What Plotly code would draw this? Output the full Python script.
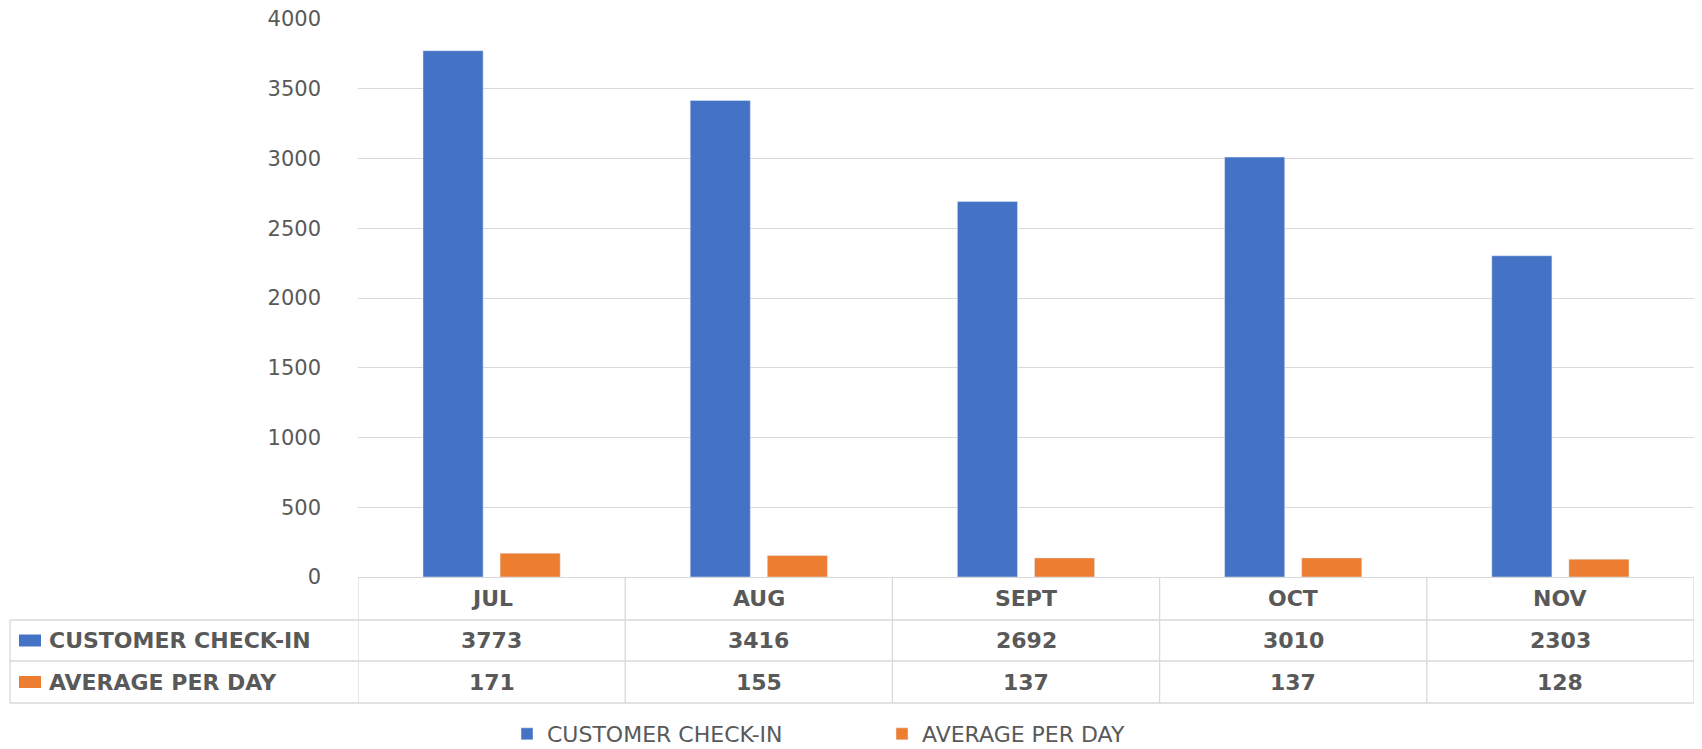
import plotly.graph_objects as go

months = ["JUL", "AUG", "SEPT", "OCT", "NOV"]
checkins = [3773, 3416, 2692, 3010, 2303]
avg_per_day = [171, 155, 137, 137, 128]
series_names = ["CUSTOMER CHECK-IN", "AVERAGE PER DAY"]
y_ticks = [0, 500, 1000, 1500, 2000, 2500, 3000, 3500, 4000]

BLUE = "#4472C4"
ORANGE = "#ED7D31"
GRID = "#D9D9D9"
TXT = "#595959"
FONT = "DejaVu Sans"

OFF = 8  # default page body margin
WIN_W, WIN_H = 1702, 749
W, H = WIN_W - OFF, WIN_H - OFF

# plot area in window pixels
PX_LEFT, PX_RIGHT, PX_TOP, PX_BOTTOM = 358, 1694, 19, 577
L = PX_LEFT - OFF
R = W - (PX_RIGHT - OFF)
T = PX_TOP - OFF
B = H - (PX_BOTTOM - OFF)
PW = PX_RIGHT - PX_LEFT
PH = PX_BOTTOM - PX_TOP


def px_x(px):
    return (px - PX_LEFT) / PW


def px_y(py):
    return (PX_BOTTOM - py) / PH


fig = go.Figure()
fig.add_trace(go.Bar(x=months, y=checkins, name=series_names[0], marker_color=BLUE))
fig.add_trace(go.Bar(x=months, y=avg_per_day, name=series_names[1], marker_color=ORANGE))

row_lines = [620, 661, 703]
row_centers = [(PX_BOTTOM + 620) / 2, (620 + 661) / 2, (661 + 703) / 2]
table_left = 10

shapes = []
line = dict(color=GRID, width=1.3)
for py in row_lines:
    shapes.append(dict(type="line", xref="paper", yref="paper",
                       x0=px_x(table_left), x1=1, y0=px_y(py), y1=px_y(py), line=line))
shapes.append(dict(type="line", xref="paper", yref="paper",
                   x0=px_x(table_left), x1=px_x(table_left),
                   y0=px_y(620), y1=px_y(703), line=line))
for i in range(len(months) + 1):
    shapes.append(dict(type="line", xref="x", yref="paper",
                       x0=i - 0.5, x1=i - 0.5, y0=0, y1=px_y(703), line=line))

annotations = []
for r, (name, vals, col) in enumerate(zip(series_names, [checkins, avg_per_day], [BLUE, ORANGE])):
    cy = row_centers[r + 1]
    shapes.append(dict(type="rect", xref="paper", yref="paper",
                       x0=px_x(19), x1=px_x(41), y0=px_y(cy - 6), y1=px_y(cy + 6),
                       fillcolor=col, line=dict(width=0)))
    annotations.append(dict(xref="paper", yref="paper", x=px_x(47), y=px_y(cy),
                            text="<b>%s</b>" % name, showarrow=False,
                            xanchor="left", yanchor="middle",
                            font=dict(family=FONT, size=22, color=TXT)))
    for i, v in enumerate(vals):
        annotations.append(dict(xref="x", yref="paper", x=i, y=px_y(cy),
                                text="<b>%d</b>" % v, showarrow=False,
                                xanchor="center", yanchor="middle",
                                font=dict(family=FONT, size=22, color=TXT)))
for i, m in enumerate(months):
    annotations.append(dict(xref="x", yref="paper", x=i, y=px_y(row_centers[0]),
                            text="<b>%s</b>" % m, showarrow=False,
                            xanchor="center", yanchor="middle",
                            font=dict(family=FONT, size=22, color=TXT)))

fig.update_layout(
    width=W, height=H,
    margin=dict(l=L, r=R, t=T, b=B, autoexpand=False),
    paper_bgcolor="white", plot_bgcolor="white",
    barmode="group", bargap=0.423, bargroupgap=0.22,
    font=dict(family=FONT, color=TXT),
    shapes=shapes, annotations=annotations,
    legend=dict(orientation="h", x=px_x(507), xanchor="left",
                y=px_y(734), yanchor="middle",
                font=dict(family=FONT, size=22, color=TXT),
                entrywidth=330, entrywidthmode="pixels",
                bgcolor="rgba(0,0,0,0)"),
)
fig.update_xaxes(showticklabels=False, showgrid=False, showline=True,
                 linecolor=GRID, linewidth=1.3, ticks="", range=[-0.5, 4.5])
fig.update_yaxes(range=[0, 4000], tickvals=y_ticks, showgrid=True, gridcolor=GRID,
                 gridwidth=1.3, zeroline=False, showline=False, ticks="",
                 ticklabelstandoff=36, ticklabeloverflow="allow",
                 tickfont=dict(family=FONT, size=21, color=TXT))

fig.write_html("out.html")
